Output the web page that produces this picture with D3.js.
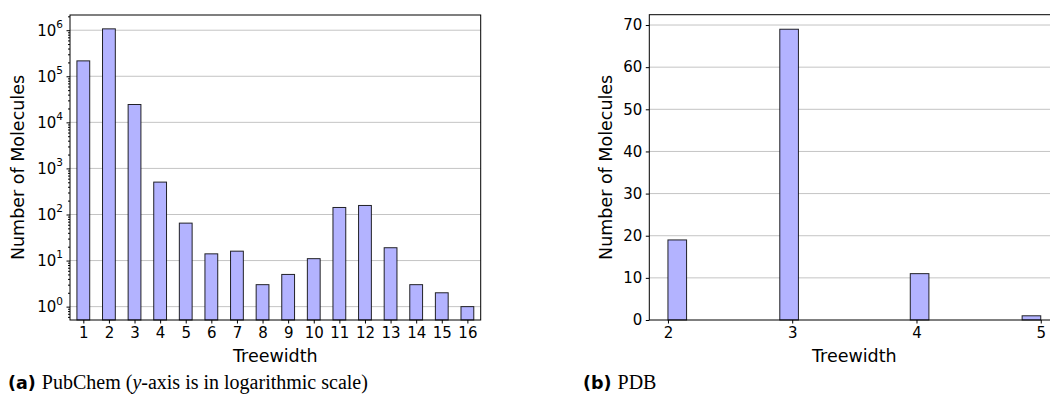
<!DOCTYPE html>
<html>
<head>
<meta charset="utf-8">
<script src="https://cdn.jsdelivr.net/npm/d3@7"></script>
<style>
  body { margin: 0; background: #fff; }
  text { font-family: "DejaVu Sans", sans-serif; fill: #000; }
  .cap { font-family: "Liberation Serif", serif; }
</style>
</head>
<body>
<div id="chart"></div>
<script>
// (a) PubChem, log scale
var treewidthA = [1, 2, 3, 4, 5, 6, 7, 8, 9, 10, 11, 12, 13, 14, 15, 16];
var countsA = [216000, 1070000, 24400, 505, 65, 14, 16, 3, 5, 11, 142, 157, 19, 3, 2, 1];
var powersA = [0, 1, 2, 3, 4, 5, 6];

// (b) PDB, histogram with 20 bins between 2 and 5
var treewidthB = [2, 3, 4, 5];
var countsB = [19, 69, 11, 1];
var ticksB = [0, 10, 20, 30, 40, 50, 60, 70];

var W = 1050, H = 403;
var fill = "#b3b3ff", grid = "#c4c4c4";

var svg = d3.select("#chart").append("svg")
    .attr("width", W)
    .attr("height", H);

// ---------- left chart ----------
var a = {left: 70, right: 480.7, top: 15, bottom: 320};

var xA = d3.scaleLinear().domain([0.48, 16.52]).range([a.left, a.right]);
var yA = d3.scaleLog().domain([Math.pow(10, -0.29), Math.pow(10, 6.33)]).range([a.bottom, a.top]);

var gA = svg.append("g");

// grid at decades
gA.selectAll("line.grid")
    .data(powersA)
    .enter().append("line")
    .attr("x1", a.left).attr("x2", a.right)
    .attr("y1", function(d) { return yA(Math.pow(10, d)); })
    .attr("y2", function(d) { return yA(Math.pow(10, d)); })
    .attr("stroke", grid).attr("stroke-width", 1);

gA.selectAll("rect")
    .data(treewidthA)
    .enter().append("rect")
    .attr("x", function(d) { return xA(d - 0.25); })
    .attr("width", function(d) { return xA(d + 0.25) - xA(d - 0.25); })
    .attr("y", function(d, i) { return yA(countsA[i]); })
    .attr("height", function(d, i) { return a.bottom - yA(countsA[i]); })
    .attr("fill", fill)
    .attr("stroke", "#000").attr("stroke-opacity", 0.85).attr("stroke-width", 1);

// minor ticks
var minorA = [];
d3.range(-1, 7).forEach(function(p) {
  d3.range(2, 10).forEach(function(m) {
    var v = m * Math.pow(10, p);
    if (v > yA.domain()[0] && v < yA.domain()[1]) minorA.push(v);
  });
});
gA.append("g")
    .attr("transform", "translate(" + a.left + ",0)")
    .call(d3.axisLeft(yA).tickValues(minorA).tickSize(2).tickFormat(""))
    .call(function(g) { g.select(".domain").remove(); });

var yAxisA = gA.append("g")
    .attr("transform", "translate(" + a.left + ",0)")
    .call(d3.axisLeft(yA).tickValues(powersA.map(function(p) { return Math.pow(10, p); }))
        .tickSize(3.5).tickPadding(3.5).tickFormat(""));
yAxisA.select(".domain").remove();
yAxisA.selectAll(".tick").each(function(d) {
  var t = d3.select(this).select("text")
      .attr("font-size", 15).attr("dy", "0.35em");
  t.append("tspan").text("10");
  t.append("tspan").attr("font-size", 10.5).attr("dy", "-0.75em")
      .text(Math.round(Math.log10(d)));
});

var xAxisA = gA.append("g")
    .attr("transform", "translate(0," + a.bottom + ")")
    .call(d3.axisBottom(xA).tickValues(treewidthA).tickSize(3.5).tickPadding(3.5));
xAxisA.select(".domain").remove();
xAxisA.selectAll("text").attr("font-size", 15);

gA.append("rect")
    .attr("x", a.left).attr("y", a.top)
    .attr("width", a.right - a.left).attr("height", a.bottom - a.top)
    .attr("fill", "none").attr("stroke", "#000").attr("stroke-width", 1);
gA.selectAll(".tick line").attr("stroke", "#000");

gA.append("text")
    .attr("x", (a.left + a.right) / 2).attr("y", 362)
    .attr("text-anchor", "middle").attr("font-size", 17.5)
    .text("Treewidth");
gA.append("text")
    .attr("transform", "translate(24," + (a.top + a.bottom) / 2 + ") rotate(-90)")
    .attr("text-anchor", "middle").attr("font-size", 17.5)
    .text("Number of Molecules");

// ---------- right chart ----------
var b = {left: 649.3, right: 1059.4, top: 14.7, bottom: 320};
var binW = 0.15;

var xB = d3.scaleLinear().domain([1.85, 5.15]).range([b.left, b.right]);
var yB = d3.scaleLinear().domain([0, 72.45]).range([b.bottom, b.top]);

var gB = svg.append("g");

gB.selectAll("line.grid")
    .data(ticksB.slice(1))
    .enter().append("line")
    .attr("x1", b.left).attr("x2", b.right)
    .attr("y1", function(d) { return yB(d); })
    .attr("y2", function(d) { return yB(d); })
    .attr("stroke", grid).attr("stroke-width", 1);

function binStart(v) {
  var k = Math.min(19, Math.floor((v - 2) / binW + 1e-9));
  return 2 + k * binW;
}

gB.selectAll("rect")
    .data(treewidthB)
    .enter().append("rect")
    .attr("x", function(d) { return xB(binStart(d)); })
    .attr("width", function(d) { return xB(binStart(d) + binW) - xB(binStart(d)); })
    .attr("y", function(d, i) { return yB(countsB[i]); })
    .attr("height", function(d, i) { return b.bottom - yB(countsB[i]); })
    .attr("fill", fill)
    .attr("stroke", "#000").attr("stroke-opacity", 0.85).attr("stroke-width", 1);

var yAxisB = gB.append("g")
    .attr("transform", "translate(" + b.left + ",0)")
    .call(d3.axisLeft(yB).tickValues(ticksB).tickSize(3.5).tickPadding(3.5));
yAxisB.select(".domain").remove();
yAxisB.selectAll("text").attr("font-size", 15);

var xAxisB = gB.append("g")
    .attr("transform", "translate(0," + b.bottom + ")")
    .call(d3.axisBottom(xB).tickValues(treewidthB).tickFormat(d3.format("d"))
        .tickSize(3.5).tickPadding(3.5));
xAxisB.select(".domain").remove();
xAxisB.selectAll("text").attr("font-size", 15);

gB.append("rect")
    .attr("x", b.left).attr("y", b.top)
    .attr("width", b.right - b.left).attr("height", b.bottom - b.top)
    .attr("fill", "none").attr("stroke", "#000").attr("stroke-width", 1);
gB.selectAll(".tick line").attr("stroke", "#000");

gB.append("text")
    .attr("x", (b.left + b.right) / 2).attr("y", 362)
    .attr("text-anchor", "middle").attr("font-size", 17.5)
    .text("Treewidth");
gB.append("text")
    .attr("transform", "translate(612," + (b.top + b.bottom) / 2 + ") rotate(-90)")
    .attr("text-anchor", "middle").attr("font-size", 17.5)
    .text("Number of Molecules");

// ---------- captions ----------
var capA = svg.append("text").attr("x", 8).attr("y", 389).attr("font-size", 17.5);
capA.append("tspan").attr("font-weight", "bold").text("(a)");
capA.append("tspan").attr("class", "cap").attr("dx", 6).attr("font-size", 20).text("PubChem (");
capA.append("tspan").attr("class", "cap").attr("font-size", 20).attr("font-style", "italic").text("y");
capA.append("tspan").attr("class", "cap").attr("font-size", 20).text("-axis is in logarithmic scale)");

var capB = svg.append("text").attr("x", 583).attr("y", 389).attr("font-size", 17.5);
capB.append("tspan").attr("font-weight", "bold").text("(b)");
capB.append("tspan").attr("class", "cap").attr("dx", 6).attr("font-size", 20).text("PDB");
</script>
</body>
</html>
